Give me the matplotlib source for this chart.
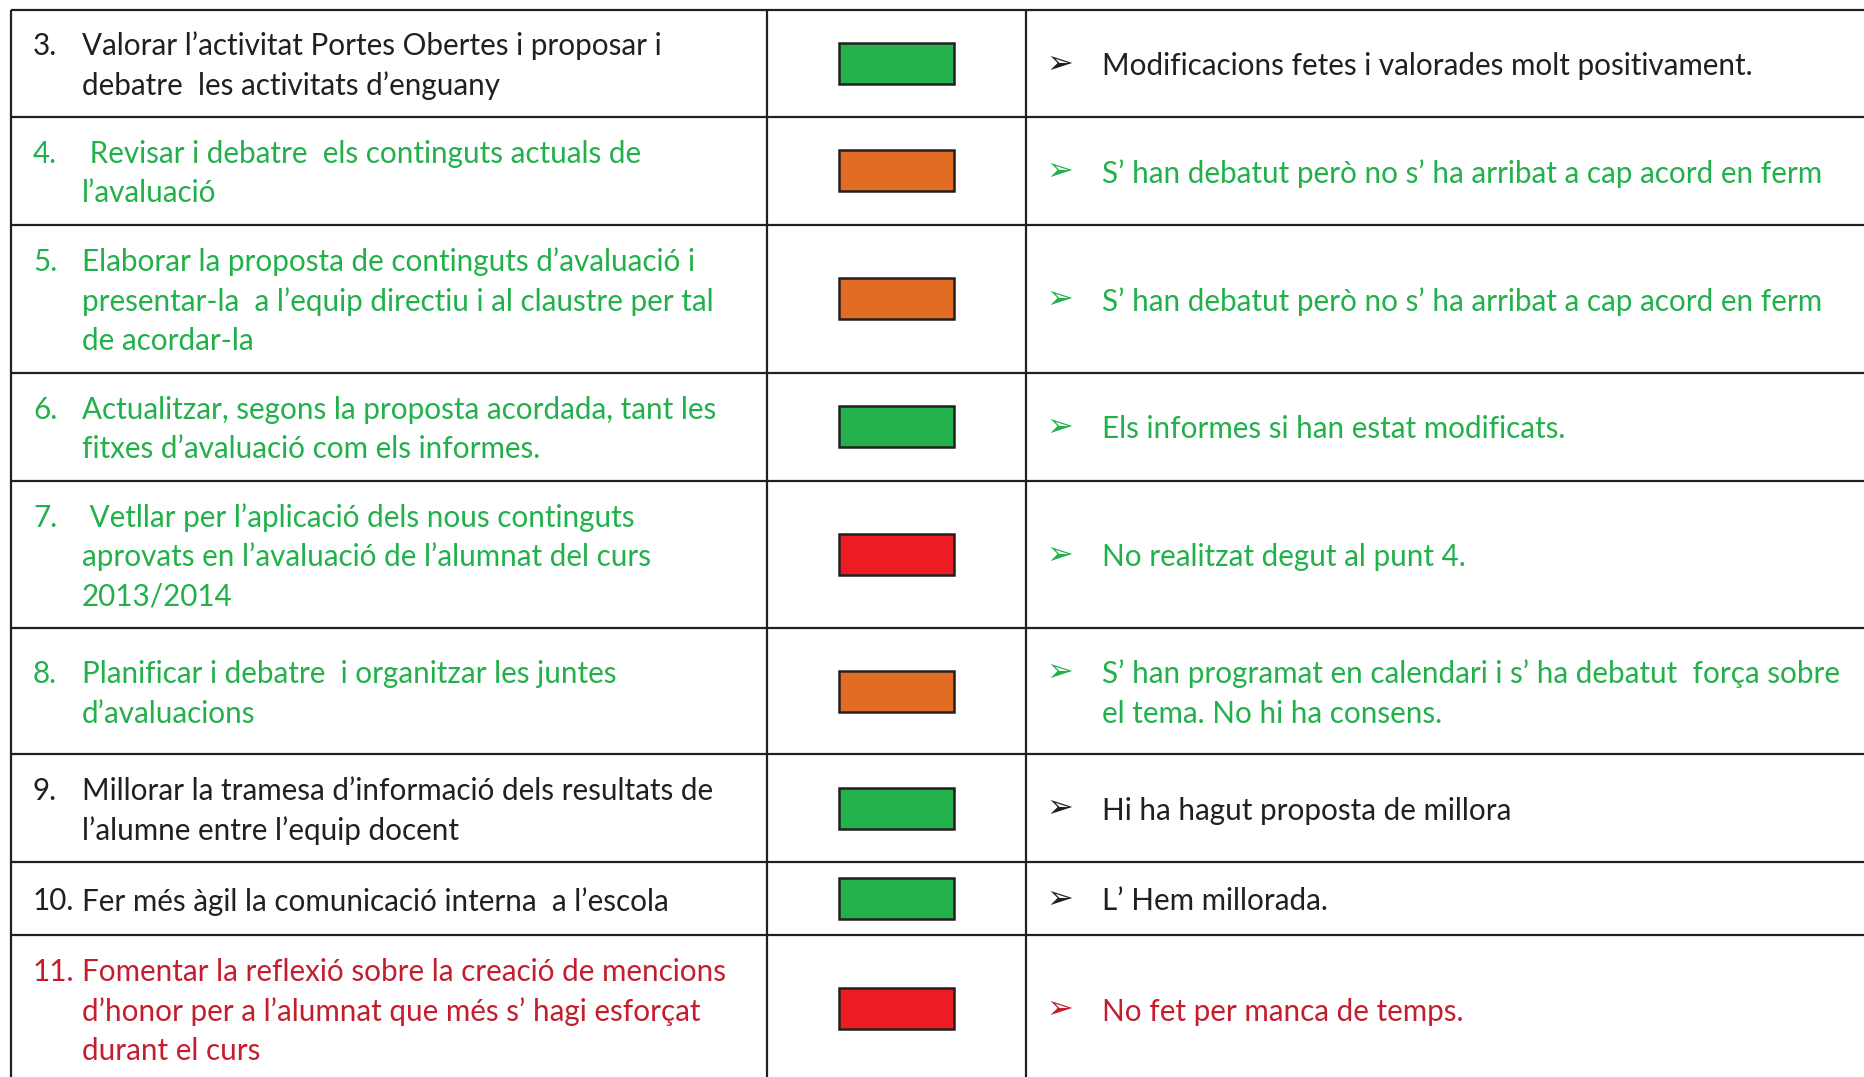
#!/usr/bin/env python3
"""Status table: objectives, traffic-light status and comments."""

import matplotlib.pyplot as plt

plt.rcParams["font.family"] = ["Lato", "DejaVu Sans"]

# ---- data -------------------------------------------------------------
numbers = ["3.", "4.", "5.", "6.", "7.", "8.", "9.", "10.", "11."]
objectives = [
    ["Valorar l’activitat Portes Obertes i proposar i",
     "debatre  les activitats d’enguany"],
    [" Revisar i debatre  els continguts actuals de",
     "l’avaluació"],
    ["Elaborar la proposta de continguts d’avaluació i",
     "presentar-la  a l’equip directiu i al claustre per tal",
     "de acordar-la"],
    ["Actualitzar, segons la proposta acordada, tant les",
     "fitxes d’avaluació com els informes."],
    [" Vetllar per l’aplicació dels nous continguts",
     "aprovats en l’avaluació de l’alumnat del curs",
     "2013/2014"],
    ["Planificar i debatre  i organitzar les juntes",
     "d’avaluacions"],
    ["Millorar la tramesa d’informació dels resultats de",
     "l’alumne entre l’equip docent"],
    ["Fer més àgil la comunicació interna  a l’escola"],
    ["Fomentar la reflexió sobre la creació de mencions",
     "d’honor per a l’alumnat que més s’ hagi esforçat",
     "durant el curs"],
]
status = ["green", "orange", "orange", "green", "red",
          "orange", "green", "green", "red"]
comments = [
    ["Modificacions fetes i valorades molt positivament."],
    ["S’ han debatut però no s’ ha arribat a cap acord en ferm"],
    ["S’ han debatut però no s’ ha arribat a cap acord en ferm"],
    ["Els informes si han estat modificats."],
    ["No realitzat degut al punt 4."],
    ["S’ han programat en calendari i s’ ha debatut  força sobre",
     "el tema. No hi ha consens."],
    ["Hi ha hagut proposta de millora"],
    ["L’ Hem millorada."],
    ["No fet per manca de temps."],
]
text_tone = ["black", "green", "green", "green", "green",
             "green", "black", "black", "red"]

# ---- styles / layout ----------------------------------------------------
status_colors = {"green": "#22B14C", "orange": "#E36C25", "red": "#ED1C24"}
text_colors = {"black": "#231F20", "green": "#22B04B", "red": "#C41E2E"}
line_color = "#231F20"

W, H = 1865, 1077
row_edges = [9.5, 116.5, 225, 372.5, 480.5, 628, 754, 862, 935, 1082]
col_edges = [11, 767, 1026]
num_x, text_x = 33, 82
box_cx, box_w, box_h = 896, 115, 41
arrow_x, comment_x = 1046, 1102
line_gap = 39.3
cap_half = 12
fs = 21.3

fig = plt.figure(figsize=(W / 100, H / 100), dpi=100)
ax = fig.add_axes([0, 0, 1, 1])
ax.set_xlim(0, W)
ax.set_ylim(H, 0)
ax.axis("off")

# grid lines
for y in row_edges[:-1]:
    ax.plot([col_edges[0], W], [y, y], color=line_color, lw=1.6,
            solid_capstyle="butt")
for x in col_edges:
    ax.plot([x, x], [row_edges[0], H], color=line_color, lw=1.6,
            solid_capstyle="butt")

centers = [(a + b) / 2 for a, b in zip(row_edges[:-1], row_edges[1:])]

for i, yc in enumerate(centers):
    tc = text_colors[text_tone[i]]

    # objective column
    lines = objectives[i]
    n = len(lines)
    for k, line in enumerate(lines):
        yl = yc + (k - (n - 1) / 2) * line_gap + cap_half
        if k == 0:
            ax.text(num_x, yl, numbers[i], color=tc, fontsize=fs,
                    ha="left", va="baseline")
        ax.text(text_x, yl, line, color=tc, fontsize=fs,
                ha="left", va="baseline")

    # status box
    ax.bar(box_cx, box_h, width=box_w, bottom=yc - box_h / 2,
           color=status_colors[status[i]], edgecolor="#231F20", linewidth=1.8)

    # comment column
    lines = comments[i]
    n = len(lines)
    for k, line in enumerate(lines):
        yl = yc + (k - (n - 1) / 2) * line_gap + cap_half
        if k == 0:
            ax.text(arrow_x, yc + (k - (n - 1) / 2) * line_gap + 1, "\u27a2",
                    color=tc, fontsize=23, family="DejaVu Sans",
                    ha="left", va="center")
        ax.text(comment_x, yl, line, color=tc, fontsize=fs,
                ha="left", va="baseline")

fig.savefig("out.png", dpi=100)
